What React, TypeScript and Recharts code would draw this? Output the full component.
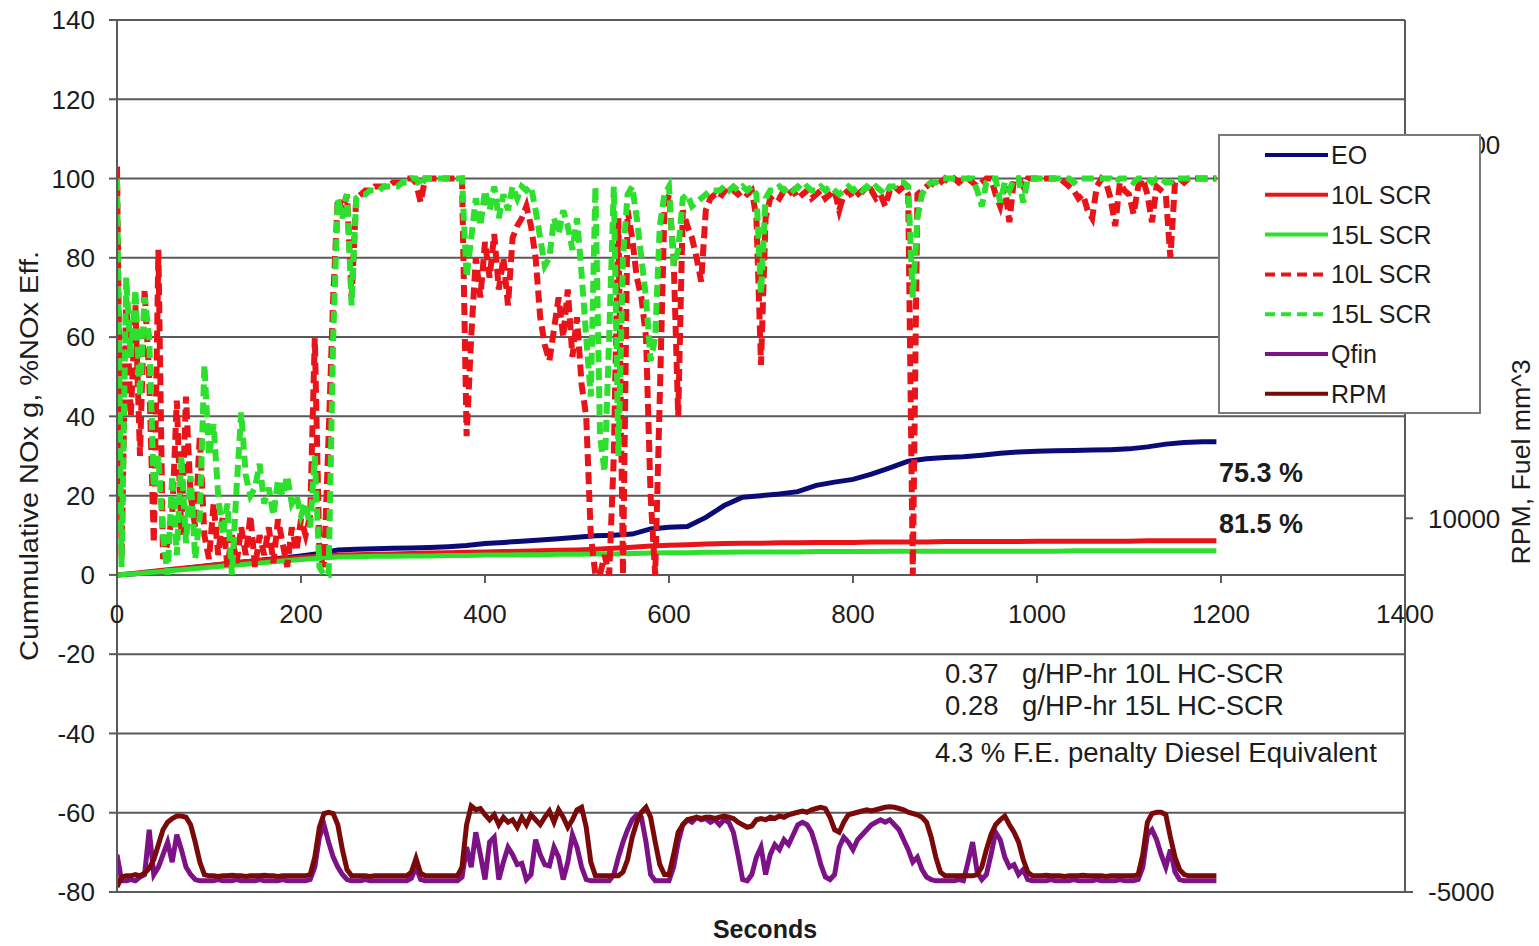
import React from 'react';
import { LineChart, Line, XAxis, YAxis, CartesianGrid } from 'recharts';

// seconds: efficiency / engine traces every 5 s, cumulative mass every 20 s
const effSeconds = Array.from({ length: 240 }, (_, i) => i * 5);
const cumSeconds = [...Array.from({ length: 60 }, (_, i) => i * 20), 1195];

// cumulative NOx, g
const eoCum = [
  0, 0.3, 0.8, 1.3, 1.8, 2.3, 2.8, 3.3, 3.8, 4.3,
  4.8, 5.4, 6.3, 6.5, 6.6, 6.7, 6.8, 6.9, 7.1, 7.4,
  7.9, 8.2, 8.5, 8.8, 9.1, 9.5, 9.9, 10, 10.3, 11.6,
  12, 12.2, 14.5, 17.5, 19.6, 20, 20.4, 21, 22.6, 23.4,
  24.1, 25.4, 27, 28.7, 29.3, 29.6, 29.8, 30.2, 30.7, 31,
  31.2, 31.3, 31.4, 31.5, 31.6, 31.8, 32.3, 33, 33.4, 33.6,
  33.6,
];
const scr10Cum = [
  0, 0.4, 0.9, 1.4, 1.9, 2.4, 2.9, 3.3, 3.7, 4.1,
  4.4, 4.7, 5, 5.1, 5.2, 5.3, 5.4, 5.5, 5.6, 5.7,
  5.8, 5.9, 6, 6.1, 6.2, 6.3, 6.5, 6.7, 7, 7.3,
  7.5, 7.6, 7.8, 7.9, 8, 8, 8.1, 8.1, 8.2, 8.2,
  8.2, 8.3, 8.3, 8.3, 8.3, 8.4, 8.4, 8.4, 8.4, 8.4,
  8.5, 8.5, 8.5, 8.5, 8.5, 8.5, 8.6, 8.6, 8.6, 8.6,
  8.6,
];
const scr15Cum = [
  0, 0.3, 0.7, 1.1, 1.5, 1.9, 2.3, 2.7, 3.1, 3.5,
  3.9, 4.2, 4.5, 4.6, 4.7, 4.7, 4.8, 4.8, 4.9, 4.9,
  5, 5, 5.1, 5.1, 5.2, 5.2, 5.3, 5.3, 5.4, 5.5,
  5.6, 5.6, 5.7, 5.7, 5.8, 5.8, 5.8, 5.8, 5.9, 5.9,
  5.9, 5.9, 6, 6, 6, 6, 6, 6, 6, 6,
  6, 6, 6.1, 6.1, 6.1, 6.1, 6.1, 6.1, 6.1, 6.1,
  6.1,
];

// %NOx efficiency
const scr10Eff = [
  103, 4, 70, 40, 68, 30, 72, 50, 8, 82, 4, 8, 15, 44, 10, 45, 20, 12, 35, 10,
  4, 18, 5, 15, 2, 10, 3, 12, 5, 15, 2, 10, 5, 12, 3, 14, 8, 2, 12, 6,
  14, 10, 15, 60, 5, 2, 35, 70, 95, 92, 96, 70, 95, 96, 97, 97, 98, 98, 98, 98,
  99, 99, 99, 100, 100, 99, 94, 100, 100, 100, 100, 100, 100, 100, 100, 100, 35, 60, 80, 70,
  84, 75, 86, 72, 80, 68, 85, 88, 90, 93, 88, 80, 65, 58, 54, 62, 70, 60, 72, 55,
  65, 48, 40, 10, 0, 0, 5, 0, 30, 90, 0, 92, 85, 75, 70, 60, 20, 0, 45, 92,
  96, 80, 40, 92, 88, 85, 80, 74, 92, 95, 96, 95, 97, 96, 97, 96, 97, 96, 97, 90,
  53, 90, 95, 96, 95, 97, 96, 97, 95, 96, 97, 95, 96, 97, 95, 96, 97, 92, 96, 97,
  95, 96, 97, 96, 97, 95, 96, 93, 97, 98, 97, 98, 96, 0, 96, 97, 98, 99, 98, 99,
  100, 99, 100, 99, 100, 100, 99, 98, 99, 100, 100, 96, 93, 98, 89, 100, 100, 98, 100, 100,
  100, 100, 100, 100, 100, 100, 99, 98, 97, 95, 96, 92, 90, 98, 100, 99, 95, 88, 99, 97,
  96, 91, 98, 100, 96, 89, 98, 97, 96, 80, 99, 100, 99, 100, 100, 100, 100, 100, 100, 100,
];
const scr15Eff = [
  100, 2, 75, 55, 72, 45, 70, 60, 22, 30, 10, 0, 25, 5, 30, 8, 25, 4, 15, 53,
  30, 38, 20, 10, 18, 0, 22, 41, 25, 20, 22, 28, 18, 22, 15, 24, 20, 25, 18, 20,
  15, 18, 12, 30, 2, 0, 0, 60, 95, 90, 96, 68, 95, 96, 96, 97, 97, 97, 98, 98,
  98, 98, 99, 99, 100, 100, 98, 100, 100, 100, 100, 100, 100, 100, 100, 100, 75, 85, 95, 88,
  97, 92, 98, 90, 96, 92, 98, 95, 98, 97, 98, 92, 85, 78, 80, 90, 86, 92, 88, 82,
  90, 76, 60, 45, 98, 35, 26, 60, 98, 30, 80, 96, 98, 90, 80, 70, 54, 60, 88, 96,
  98, 78, 82, 95, 96, 93, 94, 95, 96, 97, 97, 97, 98, 97, 98, 97, 98, 97, 98, 96,
  71, 95, 97, 97, 98, 97, 98, 97, 98, 97, 98, 97, 97, 98, 97, 98, 97, 96, 97, 98,
  97, 98, 97, 98, 97, 98, 97, 96, 98, 98, 99, 99, 98, 70, 90, 96, 98, 99, 99, 100,
  100, 100, 100, 100, 100, 100, 100, 97, 93, 99, 100, 100, 94, 99, 97, 100, 100, 94, 100, 100,
  100, 100, 100, 100, 100, 100, 100, 100, 99, 100, 100, 100, 100, 100, 100, 100, 100, 99, 100, 100,
  100, 99, 100, 100, 100, 99, 100, 100, 99, 99, 100, 100, 100, 100, 100, 100, 100, 100, 100, 100,
];

// right axis traces
const qfin = [
  -3500, -4550, -4550, -4500, -4550, -4400, -4300, -2500, -4300, -4000, -3500, -3000, -3800, -2700, -3300, -4000, -4300, -4500, -4550, -4550,
  -4550, -4550, -4500, -4550, -4550, -4550, -4500, -4550, -4550, -4550, -4550, -4500, -4550, -4550, -4550, -4550, -4500, -4550, -4550, -4550,
  -4550, -4550, -4500, -4000, -2800, -2300, -3000, -3600, -4000, -4300, -4500, -4550, -4550, -4550, -4500, -4550, -4550, -4550, -4550, -4550,
  -4550, -4550, -4550, -4550, -4450, -4000, -4500, -4550, -4550, -4550, -4550, -4550, -4550, -4550, -4550, -4400, -3200, -4000, -2600, -3500,
  -4500, -3000, -2800, -4500, -3800, -3200, -3500, -3900, -3850, -4500, -4300, -2900, -3500, -3900, -3950, -3200, -3600, -4500, -3800, -2700,
  -3200, -4000, -4500, -4550, -4550, -4550, -4550, -4550, -4300, -3600, -3000, -2500, -2100, -1900, -2000, -3000, -4300, -4550, -4550, -4550,
  -4550, -4000, -3000, -2300, -2100, -2200, -2000, -2100, -2050, -2200, -2100, -2300, -2100, -2200, -2600, -3500, -4500, -4550, -4300, -3600,
  -3200, -4300, -3500, -3100, -3300, -2900, -3100, -2700, -2300, -2200, -2300, -2600, -3200, -3900, -4400, -4500, -4300, -3200, -2800, -3000,
  -3300, -2900, -2700, -2500, -2300, -2200, -2100, -2200, -2100, -2300, -2500, -2900, -3300, -3800, -3600, -4100, -4400, -4500, -4550, -4550,
  -4550, -4550, -4550, -4500, -4550, -3800, -3000, -4200, -4500, -4300, -3500, -2600, -2900, -3600, -4000, -3900, -4300, -4100, -4500, -4550,
  -4550, -4550, -4550, -4500, -4550, -4550, -4550, -4550, -4500, -4550, -4550, -4550, -4550, -4500, -4550, -4550, -4550, -4550, -4500, -4550,
  -4550, -4550, -4500, -4000, -2700, -2500, -2900, -3500, -4000, -3300, -4200, -4500, -4550, -4550, -4550, -4550, -4550, -4550, -4550, -4550,
];
const rpm = [
  -4800, -4400, -4350, -4350, -4300, -4350, -4250, -4050, -3700, -3100, -2500, -2200, -2050, -1950, -1950, -2000, -2300, -3000, -3800, -4300,
  -4350, -4350, -4380, -4350, -4350, -4330, -4350, -4350, -4380, -4350, -4350, -4350, -4330, -4350, -4350, -4380, -4350, -4350, -4350, -4350,
  -4350, -4350, -4300, -3600, -2400, -1850, -1800, -1850, -2300, -3300, -4100, -4350, -4350, -4350, -4350, -4380, -4350, -4350, -4350, -4350,
  -4350, -4350, -4350, -4350, -4200, -3650, -4250, -4350, -4350, -4350, -4350, -4350, -4350, -4350, -4350, -4000, -2300, -1550, -1700, -1650,
  -1900, -2100, -1900, -2300, -2000, -2200, -2100, -2400, -2000, -2300, -1900, -2100, -2300, -2000, -1750, -2200, -1700, -2000, -2400, -2100,
  -1700, -1600, -2400, -3800, -4350, -4350, -4350, -4350, -4350, -4350, -4200, -3700, -2800, -2200, -1800, -1600, -2000, -3000, -3900, -4300,
  -4300, -3500, -2600, -2300, -2100, -2050, -2000, -2050, -2000, -2000, -2050, -2000, -1950, -2000, -2050, -2200, -2300, -2400, -2350, -2100,
  -2050, -2100, -2000, -2050, -1950, -2000, -1900, -1850, -1800, -1750, -1800, -1700, -1650, -1600, -1650, -2000, -2500, -2600, -2200, -1900,
  -1850, -1800, -1750, -1700, -1750, -1700, -1650, -1600, -1580, -1600, -1650, -1700, -1800, -1850, -1900, -2000, -2200, -2800, -3600, -4200,
  -4350, -4350, -4350, -4350, -4350, -4350, -4350, -4300, -4000, -3300, -2700, -2300, -2100, -1950, -2300, -2600, -3000, -3700, -4200, -4350,
  -4350, -4350, -4330, -4350, -4350, -4350, -4380, -4350, -4350, -4350, -4330, -4350, -4350, -4350, -4350, -4380, -4350, -4350, -4350, -4350,
  -4350, -4350, -4300, -3500, -2200, -1850, -1800, -1800, -1900, -2800, -3600, -4100, -4300, -4350, -4350, -4350, -4350, -4350, -4350, -4350,
];

const leftTicks = [-80, -60, -40, -20, 0, 20, 40, 60, 80, 100, 120, 140];
const rightTicks = [-5000, 10000, 25000];
const xTicks = [0, 200, 400, 600, 800, 1000, 1200, 1400];

const legendItems = [
  { name: 'EO', color: '#0b0b78', dash: '' },
  { name: '10L SCR', color: '#e8141a', dash: '' },
  { name: '15L SCR', color: '#2ee02e', dash: '' },
  { name: '10L SCR', color: '#e8141a', dash: '10 6' },
  { name: '15L SCR', color: '#2ee02e', dash: '10 6' },
  { name: 'Qfin', color: '#7d1286', dash: '' },
  { name: 'RPM', color: '#7a0a0a', dash: '' },
];

const cumData = cumSeconds.map((t, i) => ({ t, eo: eoCum[i], c10: scr10Cum[i], c15: scr15Cum[i] }));
const effData = effSeconds.map((t, i) => ({ t, e10: scr10Eff[i], e15: scr15Eff[i], qfin: qfin[i], rpm: rpm[i] }));

const W = 1539;
const H = 946;
const PLOT_TOP = 20;
const X_AXIS_H = 54;
const PLOT_H = H - PLOT_TOP - X_AXIS_H;
const Y_MIN = -80;
const Y_MAX = 140;
const ZERO_Y = PLOT_TOP + (PLOT_H * Y_MAX) / (Y_MAX - Y_MIN);

const FONT = '"Liberation Sans", Arial, sans-serif';
const AXIS = '#5a5a5a';
const TXT = '#1c1c1c';

const XTick = (props: any) => {
  const { x, payload } = props;
  return (
    <g>
      <line x1={x} x2={x} y1={ZERO_Y} y2={ZERO_Y + 8} stroke={AXIS} strokeWidth={2} />
      <text x={x} y={ZERO_Y + 48} textAnchor="middle" fontSize={26} fontFamily={FONT} fill={TXT}>
        {payload.value}
      </text>
    </g>
  );
};

export default function App() {
  return (
    <div style={{ position: 'absolute', left: 0, top: 0, width: W, height: H, background: '#fff' }}>
      <LineChart width={W} height={H} margin={{ top: PLOT_TOP, right: 0, bottom: 0, left: 0 }}>
        <CartesianGrid yAxisId="left" vertical={false} stroke={AXIS} strokeWidth={2} />
        <XAxis
          type="number"
          dataKey="t"
          domain={[0, 1400]}
          ticks={xTicks}
          height={X_AXIS_H}
          axisLine={false}
          tickLine={false}
          tick={<XTick />}
          allowDataOverflow
        />
        <YAxis
          yAxisId="left"
          domain={[Y_MIN, Y_MAX]}
          ticks={leftTicks}
          width={117}
          tickSize={8}
          tickMargin={14}
          axisLine={{ stroke: AXIS, strokeWidth: 2 }}
          tickLine={{ stroke: AXIS, strokeWidth: 2 }}
          tick={{ fontSize: 26, fontFamily: FONT, fill: TXT }}
          interval={0}
        />
        <YAxis
          yAxisId="right"
          orientation="right"
          domain={[-5000, 30000]}
          ticks={rightTicks}
          width={134}
          tickSize={8}
          tickMargin={15}
          axisLine={{ stroke: AXIS, strokeWidth: 2 }}
          tickLine={{ stroke: AXIS, strokeWidth: 2 }}
          tick={{ fontSize: 26, fontFamily: FONT, fill: TXT }}
          interval={0}
        />
        <Line data={cumData} yAxisId="left" dataKey="eo" stroke="#0b0b78" strokeWidth={5} dot={false} isAnimationActive={false} />
        <Line data={cumData} yAxisId="left" dataKey="c10" stroke="#e8141a" strokeWidth={5} dot={false} isAnimationActive={false} />
        <Line data={cumData} yAxisId="left" dataKey="c15" stroke="#2ee02e" strokeWidth={5} dot={false} isAnimationActive={false} />
        <Line data={effData} yAxisId="left" dataKey="e10" stroke="#e8141a" strokeWidth={6} strokeDasharray="12 6" dot={false} isAnimationActive={false} />
        <Line data={effData} yAxisId="left" dataKey="e15" stroke="#2ee02e" strokeWidth={6} strokeDasharray="12 6" dot={false} isAnimationActive={false} />
        <Line data={effData} yAxisId="right" dataKey="qfin" stroke="#7d1286" strokeWidth={5} dot={false} isAnimationActive={false} />
        <Line data={effData} yAxisId="right" dataKey="rpm" stroke="#7a0a0a" strokeWidth={5} dot={false} isAnimationActive={false} />
      </LineChart>

      <svg width={W} height={H} style={{ position: 'absolute', left: 0, top: 0, pointerEvents: 'none' }} fontFamily={FONT} fill={TXT}>
        <text x={1219} y={482} fontSize={27} fontWeight="bold">75.3 %</text>
        <text x={1219} y={533} fontSize={27} fontWeight="bold">81.5 %</text>
        <text x={945} y={683} fontSize={27.5}>0.37</text>
        <text x={1022} y={683} fontSize={27.5}>g/HP-hr 10L HC-SCR</text>
        <text x={945} y={715} fontSize={27.5}>0.28</text>
        <text x={1022} y={715} fontSize={27.5}>g/HP-hr 15L HC-SCR</text>
        <text x={935} y={762} fontSize={27.5}>4.3 % F.E. penalty Diesel Equivalent</text>
        <text x={765} y={938} fontSize={25} fontWeight="bold" textAnchor="middle">Seconds</text>
        <text x={38} y={456} fontSize={25} textAnchor="middle" transform="rotate(-90, 38, 456)" textLength={410} lengthAdjust="spacingAndGlyphs">
          Cummulative NOx g, %NOx Eff.
        </text>
        <text x={1530} y={462} fontSize={25} textAnchor="middle" transform="rotate(-90, 1530, 462)" textLength={205} lengthAdjust="spacingAndGlyphs">
          RPM, Fuel mm^3
        </text>

        <rect x={1219} y={135} width={261} height={278} fill="#fff" stroke="#7a7a7a" strokeWidth={2} />
        {legendItems.map((item, i) => {
          const cy = 155 + i * 39.8;
          return (
            <g key={i}>
              <line x1={1265} x2={1328} y1={cy} y2={cy} stroke={item.color} strokeWidth={4} strokeDasharray={item.dash || undefined} />
              <text x={1331} y={cy + 9} fontSize={25}>{item.name}</text>
            </g>
          );
        })}
      </svg>
    </div>
  );
}
